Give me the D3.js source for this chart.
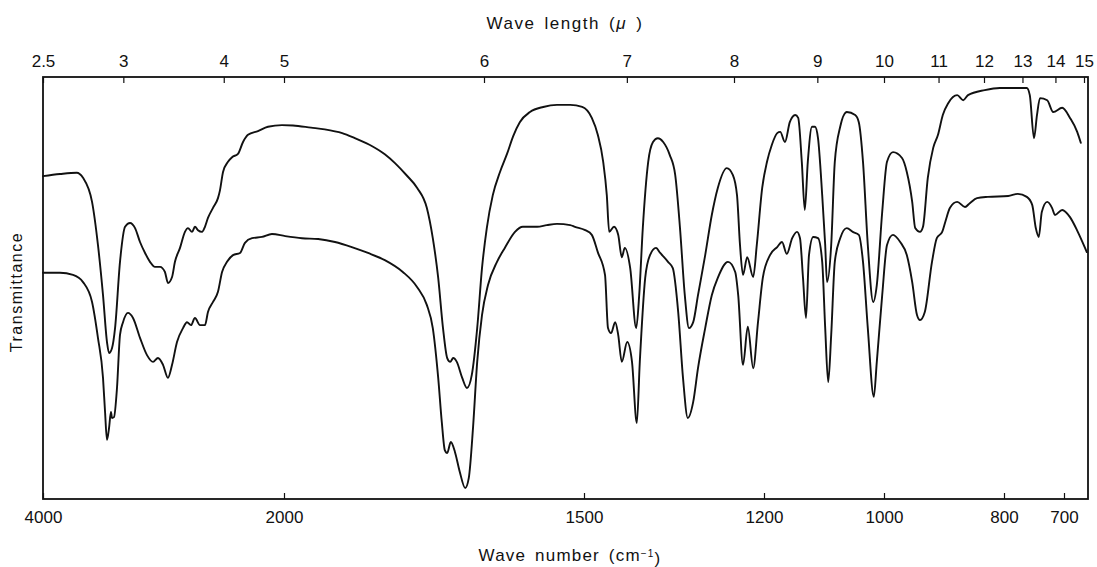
<!DOCTYPE html>
<html>
<head>
<meta charset="utf-8">
<script src="https://cdn.jsdelivr.net/npm/d3@7"></script>
<style>
  html, body { margin: 0; padding: 0; background: #fff; }
  #chart { width: 1097px; height: 567px; }
  text { font-family: "Liberation Sans", Arial, sans-serif; fill: #111; }
</style>
</head>
<body>
<div id="chart"></div>
<script>
// tick labels
const wavelengthTicks = [2.5, 3, 4, 5, 6, 7, 8, 9, 10, 11, 12, 13, 14, 15];
const wavenumberTicks = [4000, 2000, 1500, 1200, 1000, 800, 700];

// upper spectrum: [wave number (cm-1), transmittance (%)]
const upperSpectrum = [
  [4000, 76.5], [3859, 77.0], [3720, 77.3], [3668, 76.1], [3593, 70.4], [3544, 60.2],
  [3502, 48.3], [3469, 37.2], [3452, 34.6], [3427, 35.8], [3402, 40.5], [3361, 56.2],
  [3319, 64.5], [3278, 65.4], [3236, 64.2], [3195, 60.9], [3153, 58.3], [3112, 56.2],
  [3071, 55.0], [3029, 55.0], [2988, 53.8], [2963, 51.2], [2929, 52.6], [2905, 56.2],
  [2863, 59.5], [2822, 63.3], [2797, 64.2], [2763, 63.3], [2739, 64.5], [2714, 63.7],
  [2680, 63.3], [2656, 64.5], [2631, 66.6], [2589, 69.0], [2548, 71.3], [2531, 73.2],
  [2506, 77.5], [2465, 79.9], [2431, 81.0], [2382, 81.8], [2340, 84.6], [2299, 86.3],
  [2216, 87.2], [2133, 88.2], [2017, 88.6], [1985, 88.5], [1955, 88.0], [1932, 87.6],
  [1903, 86.7], [1882, 85.5], [1853, 83.6], [1832, 81.7], [1815, 79.6], [1795, 76.6],
  [1778, 73.7], [1762, 69.0], [1752, 61.8], [1743, 52.4], [1735, 40.5], [1728, 33.4],
  [1723, 32.5], [1718, 33.4], [1712, 32.5], [1703, 28.7], [1695, 26.3], [1687, 29.4],
  [1678, 40.5], [1670, 54.7], [1662, 64.2], [1652, 72.0], [1640, 77.5], [1628, 81.9],
  [1618, 86.0], [1607, 89.3], [1590, 91.7], [1568, 92.9], [1545, 93.4], [1523, 93.4],
  [1503, 92.9], [1487, 90.3], [1477, 86.3], [1468, 79.9], [1462, 72.0], [1458, 63.3],
  [1450, 64.5], [1443, 62.6], [1437, 57.3], [1432, 59.5], [1423, 54.7], [1413, 40.5],
  [1408, 48.3], [1402, 64.2], [1393, 79.9], [1385, 84.6], [1377, 85.5], [1368, 84.6],
  [1357, 81.5], [1348, 76.8], [1340, 64.2], [1332, 48.3], [1325, 40.5], [1318, 41.9],
  [1310, 48.3], [1298, 57.8], [1287, 67.3], [1277, 73.7], [1262, 78.4], [1252, 76.8],
  [1245, 72.0], [1240, 60.2], [1235, 53.1], [1228, 57.3], [1218, 52.6], [1212, 60.2],
  [1203, 73.7], [1195, 79.9], [1187, 83.9], [1178, 86.7], [1173, 87.0], [1165, 84.6],
  [1157, 89.3], [1148, 91.0], [1143, 90.3], [1137, 79.9], [1132, 68.5], [1127, 79.9],
  [1120, 88.2], [1115, 88.2], [1110, 85.5], [1103, 72.0], [1098, 60.2], [1095, 51.4],
  [1088, 60.2], [1082, 79.9], [1073, 88.2], [1062, 91.7], [1048, 91.0], [1042, 89.3],
  [1035, 79.9], [1027, 60.2], [1018, 46.7], [1012, 50.7], [1003, 68.0], [995, 79.9],
  [985, 82.2], [970, 80.8], [962, 77.5], [953, 70.4], [948, 64.2], [940, 63.3],
  [935, 64.5], [927, 76.1], [918, 83.2], [910, 86.3], [902, 91.0], [893, 93.8],
  [878, 95.7], [868, 94.5], [860, 95.7], [832, 96.9], [807, 97.4], [762, 97.4],
  [757, 95.7], [750, 85.5], [745, 91.0], [740, 95.0], [728, 94.5], [718, 91.7],
  [703, 92.7], [690, 90.3], [678, 87.0], [672, 84.4]
];

// lower spectrum: [wave number (cm-1), transmittance (%)]
const lowerSpectrum = [
  [4000, 53.6], [3859, 53.6], [3751, 53.1], [3668, 51.4], [3593, 46.7], [3544, 38.2],
  [3502, 28.7], [3485, 20.6], [3469, 14.0], [3452, 16.8], [3436, 20.6], [3427, 19.2],
  [3411, 19.4], [3386, 26.3], [3361, 38.9], [3336, 41.9], [3295, 44.1], [3253, 42.9],
  [3195, 38.2], [3137, 34.1], [3087, 32.5], [3046, 33.4], [3004, 31.8], [2963, 28.7],
  [2929, 31.8], [2888, 37.2], [2838, 40.5], [2805, 41.9], [2772, 41.2], [2739, 42.9],
  [2697, 41.2], [2656, 41.2], [2631, 44.3], [2589, 46.7], [2548, 49.1], [2514, 53.8],
  [2473, 56.2], [2423, 57.8], [2365, 58.3], [2324, 60.7], [2265, 61.8], [2183, 62.1],
  [2100, 62.8], [1998, 62.3], [1970, 61.8], [1943, 61.6], [1915, 60.9], [1887, 59.7],
  [1860, 58.3], [1832, 56.6], [1802, 53.8], [1778, 50.2], [1762, 46.0], [1752, 40.5],
  [1743, 28.7], [1737, 18.2], [1732, 11.6], [1728, 10.9], [1722, 13.5], [1715, 11.1],
  [1707, 6.4], [1698, 2.6], [1692, 5.0], [1685, 16.8], [1678, 32.5], [1670, 43.6],
  [1660, 50.7], [1645, 56.2], [1632, 59.5], [1615, 63.3], [1602, 64.5], [1578, 64.5],
  [1562, 64.9], [1545, 65.2], [1523, 64.9], [1515, 64.5], [1498, 63.7], [1487, 62.6],
  [1477, 58.5], [1465, 53.1], [1460, 40.5], [1455, 39.3], [1448, 41.9], [1443, 38.9],
  [1437, 32.5], [1428, 37.2], [1420, 32.5], [1412, 18.0], [1407, 32.5], [1398, 52.4],
  [1390, 57.8], [1380, 59.5], [1373, 58.3], [1360, 56.2], [1352, 54.7], [1343, 44.3],
  [1335, 28.7], [1327, 19.2], [1318, 23.0], [1310, 31.0], [1298, 40.5], [1287, 48.3],
  [1277, 52.4], [1260, 56.2], [1248, 53.8], [1243, 48.3], [1235, 31.8], [1227, 40.8],
  [1218, 31.0], [1210, 41.9], [1202, 52.4], [1190, 57.8], [1178, 59.7], [1170, 60.9],
  [1162, 58.1], [1153, 61.8], [1145, 63.3], [1140, 61.8], [1135, 52.4], [1130, 42.9],
  [1125, 57.8], [1118, 62.1], [1110, 61.8], [1103, 56.2], [1098, 40.5], [1093, 27.7],
  [1088, 38.9], [1082, 56.2], [1073, 61.8], [1062, 64.2], [1052, 63.3], [1042, 62.6],
  [1035, 56.2], [1027, 40.5], [1017, 24.2], [1012, 32.5], [1003, 48.3], [995, 60.2],
  [985, 62.6], [973, 60.9], [962, 57.8], [953, 51.4], [945, 43.6], [940, 42.4],
  [932, 44.3], [920, 56.2], [912, 61.8], [903, 63.3], [898, 65.6], [890, 69.0],
  [878, 70.4], [865, 69.2], [857, 70.1], [845, 71.3], [827, 71.6], [793, 71.8],
  [777, 72.3], [762, 71.6], [753, 69.7], [747, 64.2], [742, 62.1], [737, 68.0],
  [728, 70.4], [720, 69.0], [715, 67.3], [703, 68.5], [690, 66.8], [677, 63.3],
  [665, 59.5], [662, 58.5]
];

const margin = { top: 77, right: 9, bottom: 68, left: 43 };
const fullWidth = 1097;
const fullHeight = 567;
const width = fullWidth - margin.left - margin.right;
const height = fullHeight - margin.top - margin.bottom;

const svg = d3.select('#chart').append('svg')
  .attr('width', fullWidth)
  .attr('height', fullHeight);

const g = svg.append('g')
  .attr('transform', 'translate(' + margin.left + ',' + margin.top + ')');

// grating change at 2000 cm-1: two linear pieces
const xScale = d3.scaleLinear()
  .domain([4000, 2000, 660])
  .range([0, 241, width]);

const yScale = d3.scaleLinear()
  .domain([0, 100])
  .range([height, 0]);

// frame
g.append('rect')
  .attr('x', 0)
  .attr('y', 0)
  .attr('width', width)
  .attr('height', height)
  .attr('fill', 'none')
  .attr('stroke', '#111')
  .attr('stroke-width', 1.8);

// top axis in wave length
const topAxis = d3.axisTop(xScale)
  .tickValues(wavelengthTicks.map(function(l) { return 10000 / l; }))
  .tickFormat(function(d, i) { return wavelengthTicks[i]; })
  .tickSizeInner(-6)
  .tickSizeOuter(0)
  .tickPadding(10);

const gTop = g.append('g')
  .attr('class', 'x axis top')
  .call(topAxis);

// bottom axis in wave number
const bottomAxis = d3.axisBottom(xScale)
  .tickValues(wavenumberTicks)
  .tickFormat(d3.format('d'))
  .tickSizeInner(-6)
  .tickSizeOuter(0)
  .tickPadding(12);

const gBottom = g.append('g')
  .attr('class', 'x axis bottom')
  .attr('transform', 'translate(0,' + height + ')')
  .call(bottomAxis);

[gTop, gBottom].forEach(function(ax) {
  ax.select('.domain').remove();
  ax.selectAll('.tick line').attr('stroke', '#111').attr('stroke-width', 1.2);
  ax.selectAll('.tick text')
    .attr('fill', '#111')
    .style('font-size', '17px')
    .style('font-family', '"Liberation Sans", Arial, sans-serif');
});

// axis titles
const topTitle = svg.append('text')
  .attr('x', 565)
  .attr('y', 29)
  .attr('text-anchor', 'middle')
  .style('font-size', '17px')
  .style('letter-spacing', '1.5px')
  .style('word-spacing', '3px');
topTitle.append('tspan').text('Wave length (');
topTitle.append('tspan').style('font-style', 'italic').text('\u03BC');
topTitle.append('tspan').text(' )');

const bottomTitle = svg.append('text')
  .attr('x', 570)
  .attr('y', 561)
  .attr('text-anchor', 'middle')
  .style('font-size', '17px')
  .style('letter-spacing', '1.2px')
  .style('word-spacing', '3px');
bottomTitle.append('tspan').text('Wave number (cm');
bottomTitle.append('tspan')
  .attr('dy', '-0.45em')
  .style('font-size', '10px')
  .text('\u22121');
bottomTitle.append('tspan')
  .attr('dy', '0.45em')
  .text(')');

svg.append('text')
  .attr('transform', 'translate(22,292) rotate(-90)')
  .attr('text-anchor', 'middle')
  .style('font-size', '16px')
  .style('letter-spacing', '1.5px')
  .text('Transmittance');

// spectra
const line = d3.line()
  .x(function(d) { return xScale(d[0]); })
  .y(function(d) { return yScale(d[1]); })
  .curve(d3.curveMonotoneX);

[upperSpectrum, lowerSpectrum].forEach(function(series) {
  g.append('path')
    .datum(series)
    .attr('fill', 'none')
    .attr('stroke', '#111')
    .attr('stroke-width', 1.9)
    .attr('stroke-linejoin', 'round')
    .attr('stroke-linecap', 'round')
    .attr('d', line);
});
</script>
</body>
</html>
